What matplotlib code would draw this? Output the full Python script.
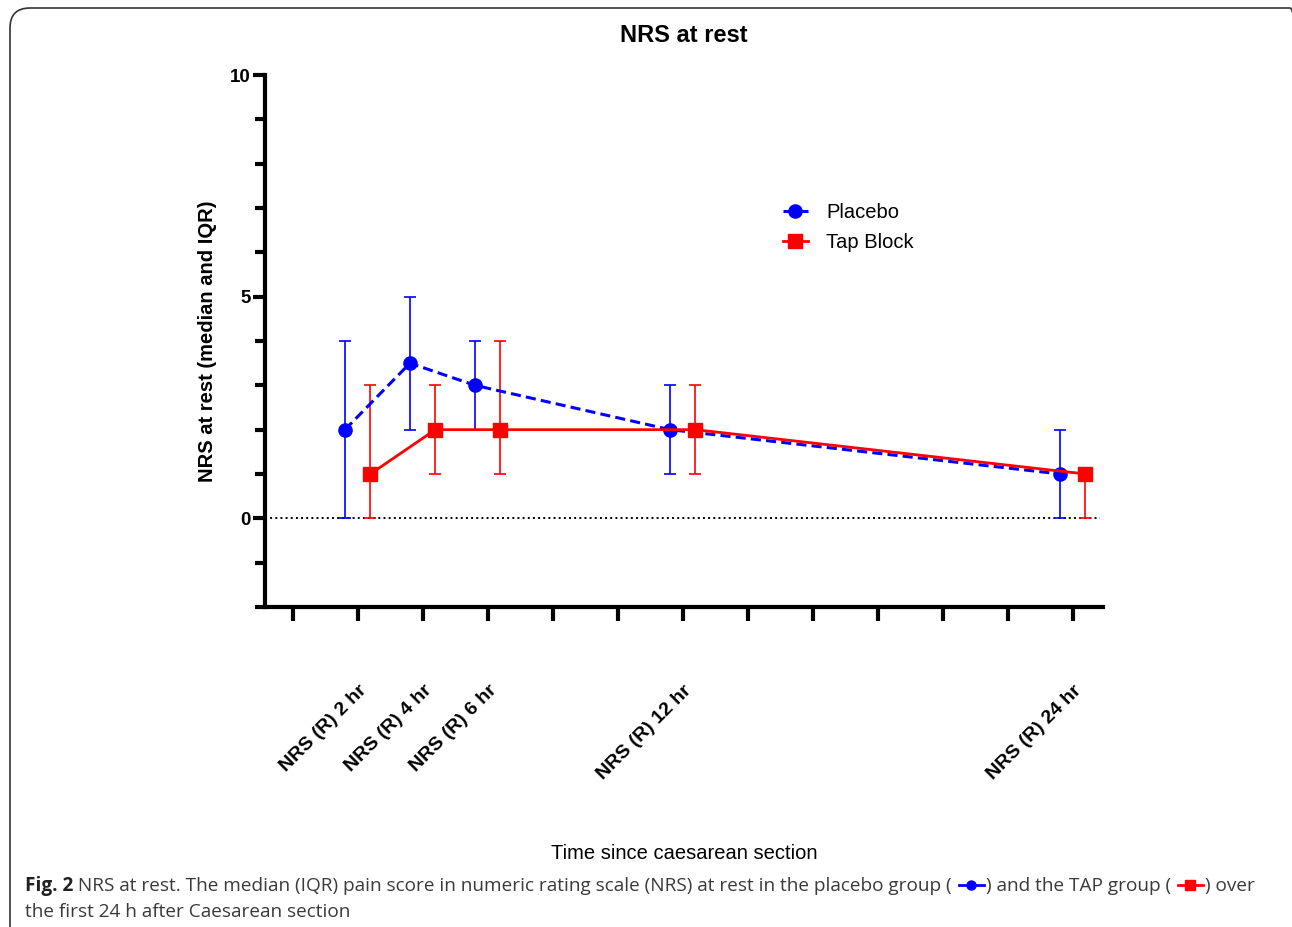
import matplotlib
matplotlib.use('Agg')
import matplotlib.pyplot as plt
from matplotlib.patches import FancyBboxPatch
from matplotlib.lines import Line2D
from matplotlib.transforms import IdentityTransform

# data (median and IQR of NRS at rest)
hours = [2, 4, 6, 12, 24]
time_labels = ['NRS (R) 2 hr', 'NRS (R) 4 hr', 'NRS (R) 6 hr', 'NRS (R) 12 hr', 'NRS (R) 24 hr']
placebo_median = [2, 3.5, 3, 2, 1]
placebo_q1 = [0, 2, 2, 1, 0]
placebo_q3 = [4, 5, 4, 3, 2]
tap_median = [1, 2, 2, 2, 1]
tap_q1 = [0, 1, 1, 1, 0]
tap_q3 = [3, 3, 4, 3, 1]

plt.rcParams['font.family'] = ['Liberation Sans', 'DejaVu Sans']

W, H = 1292, 927
fig = plt.figure(figsize=(W / 100, H / 100), dpi=100)
ax = fig.add_axes([265 / W, 1 - 607 / H, 838 / W, 532 / H])

# rounded frame around the panel in pixels (right and bottom edges run off the image)
fig.patches.append(FancyBboxPatch((10, -40), 1300, H - 8 + 40,
                                  boxstyle="round,pad=0,rounding_size=20",
                                  transform=IdentityTransform(), facecolor='none',
                                  edgecolor='#333333', linewidth=1.2))

px = [h - 0.4 for h in hours]
tx = [h + 0.38 for h in hours]
p_err = [[m - q for m, q in zip(placebo_median, placebo_q1)],
         [q - m for m, q in zip(placebo_median, placebo_q3)]]
t_err = [[m - q for m, q in zip(tap_median, tap_q1)],
         [q - m for m, q in zip(tap_median, tap_q3)]]

ax.axhline(0, xmin=0, xmax=0.996, color='black', ls=':', lw=1.4, zorder=1)

pl = ax.errorbar(px, placebo_median, yerr=p_err, color='blue', ls='--', lw=2.2,
                 marker='o', ms=9.5, capsize=4.5, elinewidth=1.2, capthick=1.2, zorder=3)
pl[0].set_dashes((3.3, 1.7))
ax.errorbar(tx, tap_median, yerr=t_err, color='red', ls='-', lw=2.0,
            marker='s', ms=9.5, capsize=4.5, elinewidth=1.2, capthick=1.2, zorder=3)

ax.set_xlim(-0.86, 24.92)
ax.set_ylim(-2, 10)

ax.spines['top'].set_visible(False)
ax.spines['right'].set_visible(False)
ax.spines['left'].set_linewidth(3)
ax.spines['bottom'].set_linewidth(3)

ticks = list(range(0, 25, 2))
ax.set_xticks(ticks)
ax.set_xticklabels([time_labels[hours.index(t)] if t in hours else '' for t in ticks],
                   rotation=45, ha='right', rotation_mode='anchor',
                   fontsize=14, fontweight='bold')
ax.tick_params(axis='x', length=10, width=3, pad=44)

ax.set_yticks([0, 5, 10])
ax.set_yticks(range(-2, 11), minor=True)
ax.set_yticklabels(['0', '5', '10'], fontsize=13.5, fontweight='bold')
ax.tick_params(axis='y', which='major', length=9, width=3, pad=1)
ax.tick_params(axis='y', which='minor', length=7, width=3)

ax.set_title('NRS at rest', fontsize=17, fontweight='bold', pad=24)
ax.set_ylabel('NRS at rest (median and IQR)', fontsize=14.5, fontweight='bold')
ax.yaxis.set_label_coords(-0.057, 0.5)
ax.set_xlabel('Time since caesarean section', fontsize=14.5)
ax.xaxis.set_label_coords(0.5, -0.446)

h1 = Line2D([], [], color='blue', ls='--', dashes=(3.3, 1.7), lw=2.2, marker='o', ms=9.5)
h2 = Line2D([], [], color='red', ls='-', lw=2.0, marker='s', ms=9.5)
ax.legend([h1, h2], ['Placebo', 'Tap Block'], loc='upper left', bbox_to_anchor=(0.618, 0.759),
          frameon=False, fontsize=14.5, handlelength=1.25, handletextpad=0.9,
          borderpad=0, borderaxespad=0, labelspacing=0.55)

# caption with the little inline symbols
renderer = fig.canvas.get_renderer()
cap_font = ['Liberation Sans Narrow', 'Open Sans', 'DejaVu Sans']
cap_color = '#3a3a3a'
icon_w = 29


def icon(x, y, color, marker):
    fig.lines.append(Line2D([(x + 2) / W, (x + icon_w - 2) / W], [1 - y / H, 1 - y / H],
                            transform=fig.transFigure, color=color, lw=2))
    fig.lines.append(Line2D([(x + icon_w / 2) / W], [1 - y / H], transform=fig.transFigure,
                            color=color, marker=marker, ms=6.5, ls='none'))


def caption(size):
    arts = []

    def put(x, y, s, weight='normal', color=cap_color):
        t = fig.text(x / W, 1 - y / H, s, ha='left', va='baseline', fontsize=size,
                     fontweight=weight, color=color, family=cap_font)
        arts.append(t)
        return t.get_window_extent(renderer).x1

    y = 891
    x = put(25, y, 'Fig. 2', 'bold', '#222222')
    x = put(x, y, ' NRS at rest. The median (IQR) pain score in numeric rating scale (NRS) at rest in the placebo group ( ')
    bx = x
    x = put(x + icon_w, y, ') and the TAP group ( ')
    rx = x
    x = put(x + icon_w, y, ') over')
    put(25, 917, 'the first 24 h after Caesarean section')
    return arts, x, bx, rx


arts, end, bx, rx = caption(12)
scale = (1253 - 25 - 2 * icon_w) / (end - 25 - 2 * icon_w)
for a in arts:
    a.remove()
arts, end, bx, rx = caption(12 * scale)
icon(bx, 885, 'blue', 'o')
icon(rx, 885, 'red', 's')

fig.savefig('out.png', dpi=100)
